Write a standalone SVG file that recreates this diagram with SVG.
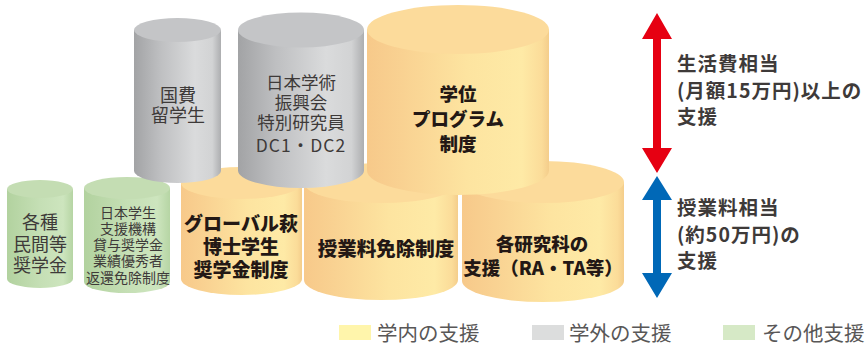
<svg xmlns="http://www.w3.org/2000/svg" width="866" height="347" viewBox="0 0 866 347">
<defs>
<linearGradient id="gOr" x1="0" y1="0" x2="1" y2="0">
<stop offset="0" stop-color="#f7c98a"/><stop offset="0.2" stop-color="#f9d292"/><stop offset="0.55" stop-color="#fde4a0"/><stop offset="0.85" stop-color="#feeaa6"/><stop offset="0.96" stop-color="#fbdc99"/><stop offset="1" stop-color="#f4cd8b"/>
</linearGradient>
<linearGradient id="gGr" x1="0" y1="0" x2="1" y2="0">
<stop offset="0" stop-color="#a2a3a5"/><stop offset="0.3" stop-color="#bebfc1"/><stop offset="0.7" stop-color="#dadbdc"/><stop offset="0.9" stop-color="#d2d3d4"/><stop offset="1" stop-color="#adaeb0"/>
</linearGradient>
<linearGradient id="gGn" x1="0" y1="0" x2="1" y2="0">
<stop offset="0" stop-color="#b2d29f"/><stop offset="0.5" stop-color="#c5dfb5"/><stop offset="0.85" stop-color="#cde5be"/><stop offset="1" stop-color="#b6d5a4"/>
</linearGradient>
</defs>
<style>
.bor{fill:url(#gOr)}.tor{fill:#fcdb9b}
.bgr{fill:url(#gGr)}.tgr{fill:#c4c5c7}
.bgn{fill:url(#gGn)}.tgn{fill:#c4ddb3}
text{font-family:"Noto Sans CJK JP","Noto Sans",sans-serif}
.reg{fill:#3e3a39;text-anchor:middle;font-weight:400}
.bld{fill:#231815;text-anchor:middle;font-weight:900}
.side{fill:#3e3a39;font-weight:700;font-size:19.5px;letter-spacing:1px}
.leg{fill:#595757;font-size:20.5px;font-weight:400}
</style>

<g id="n-minkan">
<path class="bgn" d="M7,189 L7,279 A33,9 0 0 0 73,279 L73,189 Z"/>
<ellipse class="tgn" cx="40" cy="189" rx="33" ry="9"/>
<text class="reg" font-size="18" x="40"><tspan x="40" y="229">各種</tspan><tspan x="40" y="251">民間等</tspan><tspan x="40" y="272">奨学金</tspan></text>
</g>

<g id="n-jasso">
<path class="bgn" d="M84,188 L84,282 A43,11 0 0 0 170,282 L170,188 Z"/>
<ellipse class="tgn" cx="127" cy="188" rx="43" ry="11"/>
<text class="reg" font-size="14"><tspan x="128" y="218">日本学生</tspan><tspan x="128" y="234">支援機構</tspan><tspan x="128" y="250">貸与奨学金</tspan><tspan x="128" y="266">業績優秀者</tspan><tspan x="128" y="283">返還免除制度</tspan></text>
</g>

<g id="n-global">
<path class="bor" d="M181,183 L181,279 A60.5,16 0 0 0 302,279 L302,183 Z"/>
<ellipse class="tor" cx="241.5" cy="183" rx="60.5" ry="16"/>
<text class="bld" font-size="19"><tspan x="241" y="231">グローバル萩</tspan><tspan x="241" y="254">博士学生</tspan><tspan x="241" y="277">奨学金制度</tspan></text>
</g>

<g id="n-menjo">
<path class="bor" d="M304,183 L304,280 A77,20 0 0 0 458,280 L458,183 Z"/>
<ellipse class="tor" cx="381" cy="183" rx="77" ry="20"/>
<text class="bld" font-size="19.5" x="386" y="256">授業料免除制度</text>
</g>

<g id="n-kenkyuka">
<path class="bor" d="M462,182 L462,281 A81,21 0 0 0 624,281 L624,182 Z"/>
<ellipse class="tor" cx="543" cy="182" rx="81" ry="21"/>
<text class="bld" font-size="18.5"><tspan x="542" y="251">各研究科の</tspan><tspan x="543" y="275">支援（RA・TA等）</tspan></text>
</g>

<g id="n-kokuhi">
<path class="bgr" d="M134,30 L134,171 A43.5,12 0 0 0 221,171 L221,30 Z"/>
<ellipse class="tgr" cx="177.5" cy="30" rx="43.5" ry="12"/>
<text class="reg" font-size="18"><tspan x="178" y="102">国費</tspan><tspan x="178" y="122">留学生</tspan></text>
</g>

<g id="n-jsps">
<path class="bgr" d="M238,30 L238,170.5 A63,17.5 0 0 0 364,170.5 L364,30 Z"/>
<ellipse class="tgr" cx="301" cy="30" rx="63" ry="17.5"/>
<text class="reg" font-size="17.5"><tspan x="301" y="89">日本学術</tspan><tspan x="301" y="109">振興会</tspan><tspan x="301" y="129">特別研究員</tspan><tspan x="301" y="152" letter-spacing="1">DC1・DC2</tspan></text>
</g>

<g id="n-gakui">
<path class="bor" d="M367,29.5 L367,170.5 A91,24.5 0 0 0 549,170.5 L549,29.5 Z"/>
<ellipse class="tor" cx="458" cy="29.5" rx="91" ry="24.5"/>
<text class="bld" font-size="18.5"><tspan x="458" y="101">学位</tspan><tspan x="458" y="126">プログラム</tspan><tspan x="458" y="151">制度</tspan></text>
</g>

<g id="connectors">
<polygon fill="#e60012" points="657,13 672,39 661,39 661,148 672,148 657,173 642,148 653,148 653,39 642,39"/>
<polygon fill="#0068b7" points="657,176 672,200 661,200 661,273 672,273 657,298 642,273 653,273 653,200 642,200"/>
</g>

<g id="labels">
<text class="side"><tspan x="677" y="71">生活費相当</tspan><tspan x="677" y="98">(月額15万円)以上の</tspan><tspan x="677" y="124">支援</tspan></text>
<text class="side"><tspan x="677" y="215">授業料相当</tspan><tspan x="677" y="242">(約50万円)の</tspan><tspan x="677" y="268">支援</tspan></text>
</g>

<g id="legend">
<rect x="339" y="325" width="32" height="15" fill="#fff5ab"/>
<text class="leg" x="377" y="341">学内の支援</text>
<rect x="532" y="325" width="32" height="15" fill="#dcdddd"/>
<text class="leg" x="569" y="341">学外の支援</text>
<rect x="723" y="325" width="32" height="15" fill="#d6e9c6"/>
<text class="leg" x="762" y="341">その他支援</text>
</g>
</svg>
